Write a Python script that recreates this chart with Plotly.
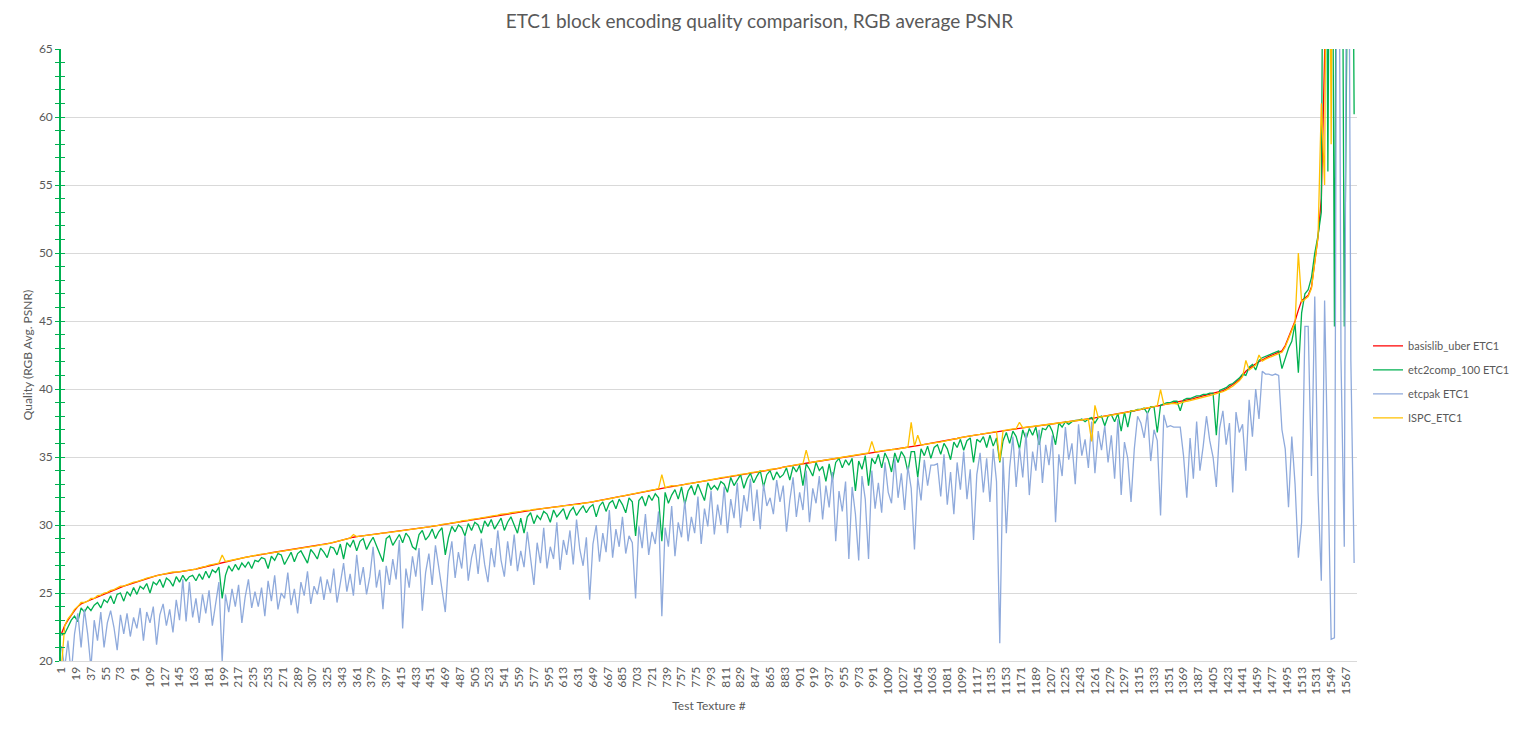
import plotly.graph_objects as go

# Test texture numbers (every 4th texture of 1580)
texture = list(range(1, 1578, 4))
x_tick_labels = list(range(1, 1568, 18))

basislib_uber = [
    22.0, 22.6, 23.0, 23.4, 23.7, 24.0, 24.2, 24.3, 24.4, 24.5, 24.6, 24.7, 24.85, 24.95, 25.05, 25.15, 25.25, 25.35, 25.42, 25.5,
    25.58, 25.66, 25.75, 25.84, 25.93, 26.0, 26.08, 26.15, 26.22, 26.28, 26.33, 26.38, 26.42, 26.46, 26.5, 26.53, 26.56, 26.59, 26.62, 26.66,
    26.7, 26.76, 26.82, 26.88, 26.95, 27.02, 27.08, 27.14, 27.2, 27.26, 27.32, 27.37, 27.42, 27.47, 27.52, 27.57, 27.62, 27.67, 27.71, 27.76,
    27.8, 27.84, 27.88, 27.92, 27.96, 28.0, 28.04, 28.08, 28.12, 28.16, 28.2, 28.24, 28.28, 28.31, 28.35, 28.38, 28.42, 28.45, 28.48, 28.52,
    28.55, 28.61, 28.67, 28.73, 28.8, 28.86, 28.92, 28.98, 29.04, 29.1, 29.15, 29.18, 29.21, 29.24, 29.27, 29.3, 29.33, 29.36, 29.39, 29.42,
    29.45, 29.48, 29.51, 29.54, 29.57, 29.61, 29.64, 29.67, 29.7, 29.74, 29.78, 29.82, 29.86, 29.9, 29.94, 29.98, 30.02, 30.06, 30.1, 30.14,
    30.18, 30.22, 30.26, 30.3, 30.35, 30.39, 30.43, 30.47, 30.51, 30.55, 30.6, 30.64, 30.68, 30.72, 30.76, 30.8, 30.84, 30.88, 30.92, 30.96,
    31.0, 31.03, 31.06, 31.09, 31.12, 31.15, 31.18, 31.21, 31.24, 31.27, 31.3, 31.33, 31.36, 31.39, 31.42, 31.45, 31.48, 31.51, 31.54, 31.57,
    31.62, 31.66, 31.7, 31.75, 31.79, 31.84, 31.88, 31.93, 31.98, 32.03, 32.08, 32.13, 32.18, 32.23, 32.28, 32.33, 32.38, 32.43, 32.48, 32.53,
    32.58, 32.62, 32.66, 32.7, 32.74, 32.78, 32.82, 32.86, 32.9, 32.94, 32.98, 33.02, 33.06, 33.1, 33.14, 33.18, 33.22, 33.26, 33.3, 33.34,
    33.42, 33.46, 33.5, 33.54, 33.58, 33.62, 33.66, 33.7, 33.74, 33.78, 33.82, 33.86, 33.9, 33.94, 33.98, 34.02, 34.06, 34.1, 34.14, 34.18,
    34.25, 34.3, 34.34, 34.38, 34.42, 34.46, 34.5, 34.54, 34.58, 34.62, 34.66, 34.7, 34.74, 34.78, 34.82, 34.86, 34.9, 34.94, 34.98, 35.02,
    35.06, 35.1, 35.14, 35.18, 35.22, 35.26, 35.3, 35.34, 35.38, 35.42, 35.45, 35.48, 35.51, 35.54, 35.57, 35.6, 35.64, 35.68, 35.72, 35.76,
    35.8, 35.84, 35.88, 35.92, 35.96, 36.0, 36.04, 36.08, 36.12, 36.16, 36.2, 36.25, 36.3, 36.36, 36.42, 36.47, 36.52, 36.56, 36.6, 36.63,
    36.66, 36.7, 36.74, 36.78, 36.82, 36.86, 36.9, 36.94, 36.98, 37.02, 37.06, 37.09, 37.12, 37.15, 37.18, 37.21, 37.24, 37.27, 37.3, 37.33,
    37.36, 37.39, 37.42, 37.45, 37.48, 37.51, 37.54, 37.57, 37.6, 37.63, 37.67, 37.71, 37.75, 37.79, 37.83, 37.87, 37.91, 37.95, 37.99, 38.03,
    38.07, 38.11, 38.15, 38.2, 38.25, 38.3, 38.35, 38.4, 38.45, 38.5, 38.55, 38.6, 38.65, 38.7, 38.75, 38.8, 38.85, 38.9, 38.95, 39.0,
    39.0, 39.06, 39.12, 39.18, 39.24, 39.3, 39.36, 39.42, 39.48, 39.54, 39.6, 39.66, 39.72, 39.8, 39.88, 40.0, 40.15, 40.3, 40.5, 40.7,
    41.0, 41.3, 41.5, 41.7, 41.85, 42.0, 42.15, 42.3, 42.4, 42.5, 42.6, 42.7, 42.8, 43.2, 43.8, 44.4, 45.0, 45.8, 46.5, 46.7,
    46.9, 47.5, 49.5, 51.2, 54.0, 68.0, 75.0, 80.0, 85.0, 99.0, 99.0, 99.0, 99.0, 99.0, 99.0,
]

etc2comp_100 = [
    21.9, 22.0, 22.5, 23.0, 23.3, 22.9, 23.9, 23.6, 24.0, 23.7, 24.1, 24.3, 23.9, 24.5, 24.3, 24.8, 24.2, 24.9, 25.0, 24.4,
    25.1, 24.8, 25.4, 24.9, 25.5, 25.3, 25.7, 25.0, 25.8, 25.6, 26.0, 25.4, 26.1, 25.9, 25.5, 26.2, 25.8, 26.3, 25.9, 26.2,
    26.3, 25.9, 26.4, 26.0, 26.6, 26.1, 26.7, 26.5, 26.9, 24.6, 26.3, 27.0, 26.6, 27.1, 26.7, 27.2, 26.9, 27.3, 26.8, 27.4,
    27.3, 27.6, 27.5, 26.8, 27.7, 27.4, 27.9, 27.8, 27.1, 27.5, 28.0, 27.3, 27.9, 28.1, 27.6, 27.2, 28.2, 27.9, 27.5, 28.3,
    28.0, 27.6, 28.4, 28.3, 27.8, 28.6, 27.5, 28.7, 28.4, 28.9, 28.1, 28.8, 29.0, 28.2, 28.7, 29.1, 28.5, 27.9, 27.3, 29.0,
    29.2, 28.5, 28.9, 29.3, 28.7, 29.4, 29.1, 28.4, 28.2, 29.3, 29.6, 28.9, 29.2, 29.7, 29.0, 29.5, 29.8, 27.8, 29.1, 29.9,
    29.5, 30.0, 29.8, 29.2, 30.1, 29.6, 30.2, 30.0, 29.4, 30.3, 29.9, 30.4, 29.7, 30.1, 30.5, 29.6, 30.2, 30.6, 30.0, 29.4,
    30.5, 29.4, 30.6, 30.9, 30.1, 30.7, 30.4, 31.0, 30.8, 30.2, 31.1, 30.6, 30.9, 31.2, 30.4, 31.0, 31.3, 30.7, 31.1, 31.4,
    30.9, 31.3, 31.5, 30.6, 31.4, 31.7, 31.0, 31.6, 31.8, 31.2, 31.9, 31.5, 30.9, 32.0, 31.7, 29.2, 31.8, 32.1, 31.4, 32.2,
    31.8, 32.3, 32.0, 28.8, 32.4, 31.6, 32.2, 32.6, 31.9, 32.8, 31.5, 32.5, 32.9, 32.2, 33.0, 32.4, 31.8, 33.1, 32.6, 32.9,
    32.6, 33.2, 33.0, 32.4, 33.5, 32.9, 33.3, 33.7, 32.7, 33.4, 33.8, 33.1, 33.6, 34.0, 32.8, 33.7, 34.0, 33.3, 33.9, 33.5,
    33.7, 34.2, 33.3, 34.3, 33.9, 34.4, 32.9, 34.5, 34.1, 33.6, 34.6, 34.0, 34.3, 33.2, 34.5, 33.3, 34.6, 34.9, 34.2, 34.8,
    34.4, 34.9, 32.5, 34.7, 34.1, 35.1, 32.9, 34.9, 34.5, 35.2, 34.2, 35.3, 34.8, 33.9, 35.3, 34.6, 35.4, 35.0, 33.9, 35.4,
    35.4, 33.5, 35.6, 35.1, 35.8, 34.9, 35.7, 35.9, 35.2, 36.0, 35.6, 34.8, 36.1, 35.7, 36.3, 35.5, 36.2, 36.4, 34.6, 36.3,
    36.1, 36.5, 35.7, 36.6, 35.8, 36.4, 34.6, 36.2, 36.8, 36.0, 36.9, 36.5, 35.6, 37.0, 36.3, 37.1, 36.6, 37.2, 35.9, 37.1,
    37.0, 37.4, 36.9, 35.9, 37.5, 37.2, 37.6, 37.4, 37.6, 37.7, 37.7, 37.8, 37.6, 37.8, 37.9, 37.5, 37.9, 38.0, 37.3, 38.0,
    38.1, 37.6, 38.2, 36.9, 38.3, 37.2, 38.4, 38.4, 38.5, 38.5, 38.6, 38.2, 38.7, 38.7, 36.8, 38.8, 38.9, 39.0, 39.0, 39.1,
    39.1, 38.4, 39.2, 39.3, 39.3, 39.4, 39.5, 39.5, 39.6, 39.6, 39.7, 39.7, 36.6, 39.9, 40.0, 40.1, 40.3, 40.4, 40.6, 40.8,
    41.1, 41.0, 41.6, 41.8, 41.4, 42.1, 42.3, 42.4, 42.5, 42.6, 42.7, 42.8, 41.5, 42.2, 43.0, 43.5, 44.8, 41.2, 45.6, 47.0,
    47.3, 48.2, 50.0, 51.3, 53.0, 99.0, 56.0, 99.0, 44.6, 99.0, 99.0, 44.6, 99.0, 99.0, 60.2,
]

etcpak = [
    21.1, 19.5, 21.5, 19.0, 22.0, 23.5, 21.0, 23.8, 22.0, 19.5, 23.0, 21.5, 23.6, 21.0, 22.8, 23.7, 22.5, 20.8, 23.4, 22.0,
    23.5, 21.8, 23.2, 22.4, 23.9, 21.5, 23.6, 22.8, 24.0, 21.2, 23.4, 24.2, 22.6, 23.8, 22.1, 24.5, 23.0, 26.0, 22.9, 25.8,
    23.2, 24.6, 22.8, 24.9, 23.5, 25.2, 22.6, 24.4, 25.8, 20.0, 24.9, 23.6, 25.3, 24.0, 25.6, 22.8, 24.7, 26.0, 23.9, 25.1,
    24.0, 25.4, 23.3, 25.9, 24.4, 26.3, 23.8, 25.0, 24.6, 26.5, 24.1, 25.3, 23.5, 25.8, 24.8, 26.6, 24.2, 25.5, 24.9, 26.2,
    24.5, 26.0, 25.0, 26.8, 24.3, 25.7, 27.2, 25.1, 26.4, 24.8, 27.8, 25.6, 26.9, 24.9, 26.2, 28.4, 25.4, 26.7, 23.8, 27.0,
    25.6, 27.5, 26.0, 28.9, 22.4, 26.8, 25.4, 27.7, 26.2, 28.3, 23.7, 26.5, 27.9, 25.6, 28.5, 26.9, 25.2, 23.6, 27.3, 28.8,
    26.1, 28.0, 26.8, 29.2, 25.9, 27.6, 28.6, 26.4, 29.0, 27.1, 25.8, 28.3, 26.9, 29.6, 27.4, 26.2, 28.8, 27.0, 29.3, 26.6,
    28.1, 26.9, 29.5, 27.6, 25.6, 28.7, 27.2, 29.8, 26.8, 28.4, 27.5, 30.2, 26.7, 28.9, 27.8, 29.6, 27.1, 30.4, 28.2, 27.0,
    29.1, 24.5, 28.6, 30.0, 27.3, 29.4, 28.0, 31.1, 27.6, 29.7, 28.4, 30.6, 27.9, 29.2, 28.7, 24.6, 29.9, 28.3, 30.8, 27.8,
    29.5, 28.6, 31.0, 23.3, 29.8, 28.4, 31.4, 27.7, 30.2, 29.1, 31.8, 28.8, 30.6, 29.4, 32.1, 28.6, 31.2, 29.9, 32.5, 29.3,
    31.5, 30.0, 32.8, 29.4, 31.9, 30.5, 33.1, 29.8, 32.2, 31.0, 33.4, 30.3, 32.6, 29.7, 33.0, 31.4, 32.0, 30.8, 33.3, 31.7,
    32.9, 29.5, 31.8, 33.5, 30.6, 32.4, 31.1, 34.0, 30.2, 32.7, 31.6, 33.6, 30.4, 32.9, 31.3, 33.9, 28.8, 32.5, 31.0, 33.2,
    27.5, 32.8, 30.8, 27.4, 33.6, 31.9, 27.5, 34.0, 31.2, 33.1, 30.9, 34.6, 32.4, 31.6, 34.9, 32.0, 33.8, 31.1, 34.3, 32.7,
    28.2, 33.5, 31.8, 34.8, 32.9, 34.4, 34.4, 34.5, 32.1, 35.2, 31.5, 33.9, 30.8, 34.6, 32.6, 35.4, 31.9, 34.1, 28.9, 33.7,
    35.3, 32.4, 34.9, 31.7, 35.6, 33.2, 21.3, 35.0, 29.4, 34.2, 36.5, 32.8, 35.7, 33.5, 36.8, 32.2, 35.4, 34.0, 37.0, 33.1,
    35.9, 34.4, 36.6, 30.2, 35.2, 33.6, 37.2, 34.8, 36.0, 33.0, 37.4, 35.1, 36.3, 34.2, 37.6, 33.8, 36.9, 35.5, 37.3, 34.6,
    36.6, 33.4, 37.8, 32.2, 36.1, 34.9, 31.7, 35.6, 38.0, 37.5, 36.4, 38.3, 34.7, 37.0, 36.2, 30.7, 38.1, 37.2, 37.3, 37.2,
    37.2, 37.2, 35.1, 32.0, 36.4, 33.4, 37.6, 34.0, 35.8, 38.0, 36.2, 35.0, 32.8, 37.1, 38.4, 35.9, 37.5, 32.4, 38.3, 36.8,
    37.4, 34.0, 39.2, 36.5, 40.0, 37.8, 41.3, 41.1, 41.1, 41.0, 41.1, 41.0, 37.0, 35.6, 31.3, 36.5, 33.0, 27.6, 30.2, 44.6,
    44.6, 33.6, 46.8, 32.5, 25.9, 46.5, 34.0, 21.6, 21.7, 99.0, 42.1, 28.4, 99.0, 42.1, 27.2,
]

ispc_etc1 = [
    19.5, 22.6, 23.1, 23.4, 23.8, 24.0, 24.3, 24.3, 24.4, 24.6, 24.6, 24.8, 24.85, 25.0, 25.05, 25.2, 25.25, 25.35, 25.5, 25.5,
    25.6, 25.66, 25.8, 25.84, 25.95, 26.0, 26.1, 26.15, 26.25, 26.28, 26.33, 26.4, 26.42, 26.46, 26.55, 26.53, 26.56, 26.62, 26.62, 26.66,
    26.72, 26.76, 26.85, 26.88, 26.95, 27.05, 27.08, 27.14, 27.2, 27.8, 27.32, 27.37, 27.45, 27.47, 27.52, 27.6, 27.62, 27.67, 27.75, 27.76,
    27.8, 27.86, 27.88, 27.92, 27.98, 28.0, 28.04, 28.1, 28.12, 28.16, 28.22, 28.24, 28.28, 28.33, 28.35, 28.38, 28.45, 28.45, 28.48, 28.55,
    28.55, 28.61, 28.7, 28.73, 28.8, 28.88, 28.92, 28.98, 29.04, 29.3, 29.15, 29.18, 29.23, 29.24, 29.27, 29.32, 29.33, 29.36, 29.42, 29.42,
    29.45, 29.5, 29.51, 29.54, 29.6, 29.61, 29.64, 29.7, 29.7, 29.74, 29.8, 29.82, 29.86, 29.92, 29.94, 29.98, 30.05, 30.06, 30.1, 30.16,
    30.18, 30.22, 30.3, 30.3, 30.35, 30.42, 30.43, 30.47, 30.53, 30.55, 30.6, 30.66, 30.68, 30.72, 30.8, 30.8, 30.84, 30.9, 30.92, 30.96,
    31.0, 31.05, 31.06, 31.09, 31.15, 31.15, 31.18, 31.23, 31.24, 31.27, 31.32, 31.33, 31.36, 31.42, 31.42, 31.45, 31.5, 31.51, 31.54, 31.6,
    31.62, 31.66, 31.72, 31.75, 31.79, 31.86, 31.88, 31.93, 32.0, 32.03, 32.08, 32.15, 32.18, 32.23, 32.3, 32.33, 32.38, 32.45, 32.48, 32.53,
    32.6, 32.62, 32.68, 33.7, 32.74, 32.8, 32.9, 32.86, 32.92, 32.94, 32.98, 33.05, 33.06, 33.1, 33.16, 33.18, 33.22, 33.28, 33.3, 33.36,
    33.42, 33.48, 33.5, 33.54, 33.6, 33.62, 33.66, 33.72, 33.74, 33.78, 33.85, 33.86, 33.9, 33.96, 33.98, 34.02, 34.08, 34.1, 34.14, 34.2,
    34.25, 34.3, 34.36, 34.38, 34.42, 34.48, 34.5, 35.5, 34.58, 34.62, 34.68, 34.7, 34.74, 34.8, 34.82, 34.86, 34.92, 34.94, 34.98, 35.04,
    35.06, 35.12, 35.14, 35.18, 35.24, 35.26, 35.3, 36.15, 35.38, 35.42, 35.47, 35.48, 35.51, 35.56, 35.57, 35.6, 35.66, 35.68, 35.72, 37.55,
    35.8, 36.6, 35.88, 35.94, 35.96, 36.0, 36.06, 36.08, 36.12, 36.18, 36.2, 36.25, 36.32, 36.36, 36.42, 36.5, 36.52, 36.56, 36.62, 36.63,
    36.66, 36.7, 36.76, 36.78, 36.82, 36.88, 34.7, 36.94, 36.98, 37.04, 37.06, 37.09, 37.55, 37.15, 37.18, 37.23, 37.24, 37.27, 37.32, 37.33,
    37.36, 37.39, 37.44, 37.45, 37.48, 37.53, 37.54, 37.57, 37.62, 37.63, 37.67, 37.73, 37.75, 37.79, 36.15, 38.8, 37.91, 37.95, 38.0, 38.03,
    38.07, 38.11, 38.17, 38.2, 38.25, 38.3, 38.37, 38.4, 38.45, 38.5, 38.57, 38.6, 38.65, 38.7, 38.75, 39.95, 38.85, 38.9, 38.92, 38.95,
    38.9, 38.98, 39.05, 39.1, 39.15, 39.22, 39.28, 39.34, 39.4, 39.46, 39.52, 39.58, 39.64, 39.72, 39.8, 39.92, 40.05, 40.2, 40.4, 40.6,
    40.9, 42.1, 41.4, 41.6, 41.75, 42.5, 42.05, 42.2, 42.3, 42.4, 42.5, 42.6, 42.7, 43.1, 43.7, 44.3, 44.9, 50.0, 46.4, 46.6,
    46.8, 47.4, 49.4, 51.2, 61.0, 55.0, 99.0, 58.0, 99.0, 99.0, 99.0, 99.0, 99.0, 99.0, 99.0,
]

series_names = ["basislib_uber ETC1", "etc2comp_100 ETC1", "etcpak ETC1", "ISPC_ETC1"]
series_values = [basislib_uber, etc2comp_100, etcpak, ispc_etc1]
series_colors = ["#ff0000", "#00b050", "#8faadc", "#ffc000"]

AXIS_GREEN = "#00b050"
GRID = "#d9d9d9"
TEXT = "#595959"

fig = go.Figure()

for name, vals, color in zip(series_names, series_values, series_colors):
    fig.add_trace(go.Scatter(
        x=texture, y=vals, name=name, mode="lines",
        line=dict(color=color, width=1.3),
        legendgroup=name,
    ))

# empty trace so the second y axis (inner half of the cross ticks) gets drawn
fig.add_trace(go.Scatter(x=[], y=[], yaxis="y2", showlegend=False, hoverinfo="skip"))

# page body has an 8px margin, so the figure is sized to fit inside it
fig.update_layout(
    width=1503,
    height=714,
    margin=dict(l=53, r=154, t=41, b=61, autoexpand=False),
    paper_bgcolor="white",
    plot_bgcolor="white",
    font=dict(family="Lato, Carlito, sans-serif", size=12, color=TEXT),
    title=dict(
        text="ETC1 block encoding quality comparison, RGB average PSNR",
        x=0.5, xanchor="center", y=0.981, yanchor="middle",
        font=dict(size=19, color=TEXT),
    ),
    xaxis=dict(
        range=[0.5, 1580.5],
        tickmode="array",
        tickvals=x_tick_labels,
        tickangle=-90,
        showgrid=False,
        zeroline=False,
        showline=True,
        linecolor=GRID,
        ticks="",
        automargin=False,
        title=dict(text="Test Texture #", font=dict(size=12), standoff=7),
    ),
    yaxis=dict(
        range=[20, 65],
        dtick=5,
        showgrid=True,
        gridcolor=GRID,
        zeroline=False,
        showline=True,
        linecolor=AXIS_GREEN,
        linewidth=1.6,
        ticks="outside",
        ticklen=4,
        tickwidth=1.2,
        tickcolor=AXIS_GREEN,
        ticklabelstandoff=0,
        minor=dict(dtick=1, ticks="outside", ticklen=4, tickwidth=1.2, tickcolor=AXIS_GREEN, showgrid=False),
        automargin=False,
        title=dict(text="Quality (RGB Avg. PSNR)", font=dict(size=12), standoff=4),
    ),
    yaxis2=dict(
        overlaying="y",
        anchor="x",
        side="left",
        range=[20, 65],
        dtick=5,
        showgrid=False,
        zeroline=False,
        showline=False,
        showticklabels=False,
        ticks="inside",
        ticklen=4,
        tickwidth=1.2,
        tickcolor=AXIS_GREEN,
        minor=dict(dtick=1, ticks="inside", ticklen=4, tickwidth=1.2, tickcolor=AXIS_GREEN, showgrid=False),
    ),
    legend=dict(
        x=1.0085, y=0.456, xanchor="left", yanchor="middle",
        font=dict(size=11, color=TEXT),
        tracegroupgap=5,
        bgcolor="rgba(0,0,0,0)",
    ),
    showlegend=True,
)

fig.write_html("out.html")
